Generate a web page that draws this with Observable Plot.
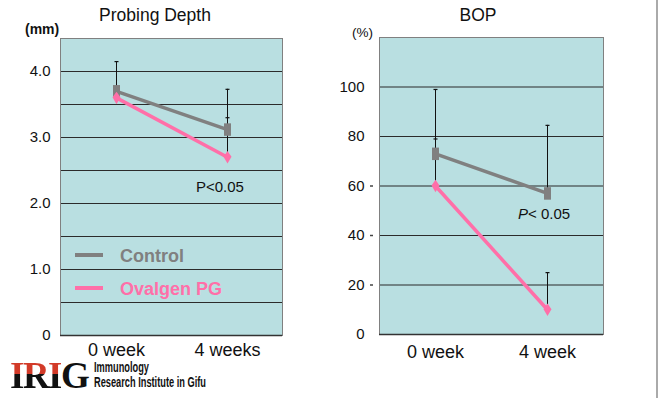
<!DOCTYPE html>
<html><head><meta charset="utf-8">
<script src="https://cdn.jsdelivr.net/npm/d3@7"></script>
<script src="https://cdn.jsdelivr.net/npm/@observablehq/plot@0.6"></script>
<style>
body{margin:0;background:#fff;font-family:"Liberation Sans",Arial,sans-serif;}
#wrap{position:relative;width:660px;height:398px;overflow:hidden;background:#fff;}
.abs{position:absolute;white-space:nowrap;line-height:1;}
.c{transform:translate(-50%,-50%);}
.v{transform:translateY(-50%);}
.n{transform:translateY(-50%) scaleX(0.66);transform-origin:left center;}
svg{position:absolute;top:0;}
</style></head><body><div id="wrap"></div>
<script>
// ---- data ----
const seriesNames = ["Control", "Ovalgen PG"];
const weeksPD = ["0 week", "4 weeks"];
const weeksBOP = ["0 week", "4 week"];
const pdControl = [3.7, 3.12];
const pdControlUpper = [4.15, 3.73];
const pdOvalgen = [3.6, 2.7];
const pdOvalgenUpper = [3.75, 3.3];
const bopControl = [73, 57];
const bopControlUpper = [99, 84.5];
const bopOvalgen = [60, 10];
const bopOvalgenUpper = [79, 25];
const pdTicks = [0, 1, 2, 3, 4];
const pdGrid = [0.5, 1, 1.5, 2, 2.5, 3, 3.5, 4];
const bopTicks = [0, 20, 40, 60, 80, 100];
const bopGrid = [20, 40, 60, 80, 100];
const bopDashTicks = [20, 40, 60];

const GRAY = "#808080", PINK = "#ff6fa8", BG = "#b9dfe1";
const FONT = "'Liberation Sans', Arial, sans-serif";

function rows(cats, c, cu, o, ou) {
  const out = [];
  cats.forEach((w, i) => {
    out.push({week: w, series: seriesNames[0], value: c[i], upper: cu[i]});
    out.push({week: w, series: seriesNames[1], value: o[i], upper: ou[i]});
  });
  return out;
}

const rectSym = {draw(ctx, size) { const r = Math.sqrt(size / Math.PI); const w = r * 0.7, h = r * 1.25; ctx.moveTo(-w, -h); ctx.lineTo(w, -h); ctx.lineTo(w, h); ctx.lineTo(-w, h); ctx.closePath(); }};
const diamondSym = {draw(ctx, size) { const r = Math.sqrt(size / Math.PI); const w = r * 0.8, h = r * 1.25; ctx.moveTo(0, -h); ctx.lineTo(w, -h * 0.1); ctx.lineTo(0, h); ctx.lineTo(-w, -h * 0.1); ctx.closePath(); }};
const capSym = {draw(ctx, size) { const r = Math.sqrt(size / Math.PI); ctx.moveTo(-r, 0); ctx.lineTo(r, 0); }};

function panel({cats, data, domain, grid, ticks, fmt, ml, mr, mt, mb, tickDx, xDy, dashTicks}) {
  const ctrl = data.filter(d => d.series === seriesNames[0]);
  const ova = data.filter(d => d.series === seriesNames[1]);
  const marks = [
    Plot.frame({fill: BG, stroke: null}),
    Plot.ruleY(grid, {stroke: "#2b2b2b", strokeWidth: 1.2}),
    Plot.frame({stroke: "#808080", strokeWidth: 1}),
    Plot.ruleY([0], {stroke: "#333", strokeWidth: 1.5}),
    Plot.line(ova, {x: "week", y: "value", stroke: PINK, strokeWidth: 3.5}),
    Plot.line(ctrl, {x: "week", y: "value", stroke: GRAY, strokeWidth: 3.5}),
    Plot.ruleX(data, {x: "week", y1: "value", y2: "upper", stroke: "#111", strokeWidth: 1}),
    Plot.dot(data, {x: "week", y: "upper", symbol: capSym, r: 2, stroke: "#111", fill: "none", strokeWidth: 1.2}),
    Plot.dot(ctrl, {x: "week", y: "value", symbol: rectSym, r: 5, fill: GRAY, stroke: null}),
    Plot.dot(ova, {x: "week", y: "value", symbol: diamondSym, r: 5, fill: PINK, stroke: null}),
    Plot.text(ticks, {y: d => d, text: fmt, frameAnchor: "left", dx: tickDx, textAnchor: "end", fontSize: 15, fill: "#111"}),
    Plot.text(cats, {x: d => d, text: d => d, frameAnchor: "bottom", dy: xDy, fontSize: 18, fill: "#111"})
  ];
  if (dashTicks) marks.push(Plot.dot(dashTicks, {y: d => d, frameAnchor: "left", dx: -8, symbol: capSym, r: 1.5, stroke: "#444", fill: "none"}));
  return Plot.plot({
    width: 300, height: 370,
    marginLeft: ml, marginRight: mr, marginTop: mt, marginBottom: mb,
    style: {fontFamily: FONT, background: "transparent", overflow: "visible"},
    x: {type: "point", domain: cats, padding: 0.5, axis: null},
    y: {domain, axis: null},
    marks
  });
}

const wrap = document.getElementById("wrap");
const left = panel({cats: weeksPD, data: rows(weeksPD, pdControl, pdControlUpper, pdOvalgen, pdOvalgenUpper),
  domain: [0, 4.5], grid: pdGrid, ticks: pdTicks, fmt: d => d === 0 ? "0" : d.toFixed(1),
  ml: 60, mr: 18, mt: 38, mb: 35, tickDx: -10, xDy: 20});
left.style.left = "0px";
wrap.appendChild(left);
const right = panel({cats: weeksBOP, data: rows(weeksBOP, bopControl, bopControlUpper, bopOvalgen, bopOvalgenUpper),
  domain: [0, 120], grid: bopGrid, ticks: bopTicks, fmt: d => String(d),
  ml: 49, mr: 27, mt: 37, mb: 36, tickDx: -15, xDy: 23, dashTicks: bopDashTicks});
right.style.left = "330px";
wrap.appendChild(right);

function addText(html, css, cls) {
  const el = document.createElement("div");
  el.className = "abs " + (cls || "");
  el.innerHTML = html;
  Object.assign(el.style, css);
  wrap.appendChild(el);
  return el;
}
addText("Probing Depth", {left: "155px", top: "16px", fontSize: "17.5px", color: "#111"}, "c");
addText("BOP", {left: "478px", top: "16px", fontSize: "17.5px", color: "#111"}, "c");
addText("(mm)", {left: "25px", top: "29px", fontSize: "14px", fontWeight: "bold", color: "#111"}, "v");
addText("(%)", {left: "352px", top: "33px", fontSize: "13.5px", color: "#111"}, "v");
addText("P&lt;0.05", {left: "196px", top: "186px", fontSize: "15px", color: "#111"}, "v");
addText("<i>P</i>&lt; 0.05", {left: "518px", top: "213px", fontSize: "15px", color: "#111"}, "v");
// legend
addText("", {left: "75px", top: "253px", width: "28px", height: "4px", background: GRAY});
addText(seriesNames[0], {left: "120px", top: "256px", fontSize: "18px", fontWeight: "bold", color: GRAY}, "v");
addText("", {left: "75px", top: "286px", width: "28px", height: "4px", background: PINK});
addText(seriesNames[1], {left: "120px", top: "289px", fontSize: "18px", fontWeight: "bold", color: PINK}, "v");
// logo
addText("<span style=\"background:linear-gradient(to bottom,#d23a28 46%,#111 46%);-webkit-background-clip:text;background-clip:text;color:transparent\">IRI</span><span style=\"color:#111\">G</span>",
  {left: "10px", top: "357px", fontSize: "37px", fontWeight: "bold", fontFamily: "'Liberation Serif','DejaVu Serif',serif", letterSpacing: "-1.5px"});
addText("Immunology", {left: "94px", top: "366.5px", fontSize: "14px", fontWeight: "bold", color: "#111"}, "n");
addText("Research Institute in Gifu", {left: "94px", top: "382px", fontSize: "14px", fontWeight: "bold", color: "#111"}, "n");
addText("", {left: "656px", top: "0px", width: "2px", height: "398px", background: "#aaa"});
</script></body></html>
